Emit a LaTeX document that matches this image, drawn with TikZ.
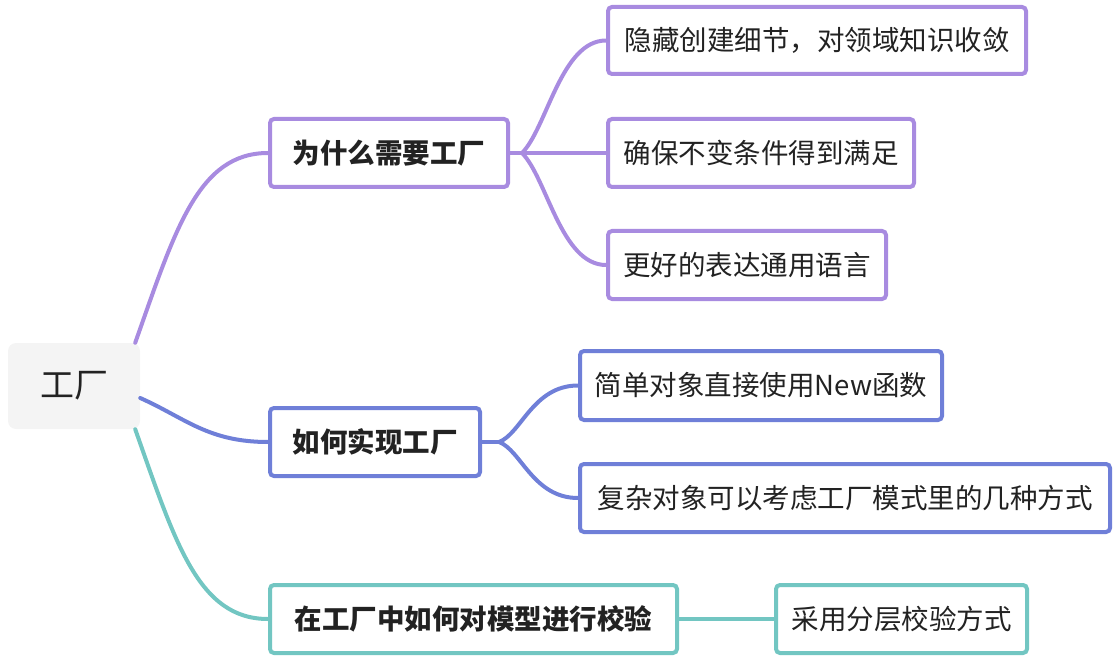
\documentclass[tikz,border=0pt]{standalone}
\usepackage{fontspec}
\setmainfont{Noto Sans CJK SC}
\definecolor{cpur}{RGB}{168,139,224}
\definecolor{cblu}{RGB}{111,127,216}
\definecolor{ctea}{RGB}{114,198,194}
\definecolor{croot}{RGB}{244,244,244}
\definecolor{ctxt}{RGB}{34,34,34}
\begin{document}
\begin{tikzpicture}[x=1pt,y=-1pt,
  box/.style={draw, line width=4pt, rounded corners=4pt, fill=white, text=ctxt,
    inner sep=0pt, minimum height=68pt, font=\fontsize{27.5pt}{30pt}\selectfont},
  lvl/.style={box, font=\fontsize{27.5pt}{30pt}\selectfont\bfseries},
  conn/.style={line width=4pt, line cap=round}]
\useasboundingbox (0,0) rectangle (1118,660);
% root
\node[fill=croot, rounded corners=8pt, minimum width=132pt, minimum height=86pt, inner sep=0pt,
  text=ctxt, font=\fontsize{34pt}{36pt}\selectfont] (root) at (74,386) {工厂};
% level 1
\node[lvl, draw=cpur, minimum width=238pt] (n1) at (389,153) {为什么需要工厂};
\node[lvl, draw=cblu, minimum width=210pt] (n2) at (375,442) {如何实现工厂};
\node[lvl, draw=ctea, minimum width=407pt] (n3) at (473.5,619) {在工厂中如何对模型进行校验};
% leaves
\node[box, draw=cpur, minimum width=418pt, minimum height=67pt] (a1) at (817,40.5) {隐藏创建细节，对领域知识收敛};
\node[box, draw=cpur, minimum width=306pt] (a2) at (761,153) {确保不变条件得到满足};
\node[box, draw=cpur, minimum width=278pt] (a3) at (747,265) {更好的表达通用语言};
\node[box, draw=cblu, minimum width=362pt, minimum height=69pt] (b1) at (761,385.5) {简单对象直接使用New函数};
\node[box, draw=cblu, minimum width=530pt] (b2) at (845,498) {复杂对象可以考虑工厂模式里的几种方式};
\node[box, draw=ctea, minimum width=251pt] (c1) at (901.5,619) {采用分层校验方式};
% branch points
\coordinate (p1) at ([xshift=12pt]n1.east);
\coordinate (p2) at ([xshift=17pt]n2.east);
\coordinate (r1) at ([xshift=-5pt]root.north east);
\coordinate (r2) at ([yshift=-12pt]root.east);
\coordinate (r3) at ([xshift=-5pt]root.south east);
\begin{scope}[on background layer/.try]
\end{scope}
% root connectors
\draw[conn, cpur] (r1) .. controls +(40,-113) and +(-70,0) .. (n1.west);
\draw[conn, cblu] (r2) .. controls +(45,20) and +(-60,0) .. (n2.west);
\draw[conn, ctea] (r3) .. controls +(40,113) and +(-70,0) .. (n3.west);
% purple leaves
\draw[conn, cpur] (n1.east) -- (p1);
\draw[conn, cpur] (p1) .. controls +(25,-25) and +(-45,0) .. (a1.west);
\draw[conn, cpur] (p1) -- (a2.west);
\draw[conn, cpur] (p1) .. controls +(25,25) and +(-45,0) .. (a3.west);
% blue leaves
\draw[conn, cblu] (n2.east) -- (p2);
\draw[conn, cblu] (p2) .. controls +(22,-8) and +(-45,0) .. (b1.west);
\draw[conn, cblu] (p2) .. controls +(22,8) and +(-45,0) .. (b2.west);
% teal leaf
\draw[conn, ctea] (n3.east) -- (c1.west);
\end{tikzpicture}
\end{document}
